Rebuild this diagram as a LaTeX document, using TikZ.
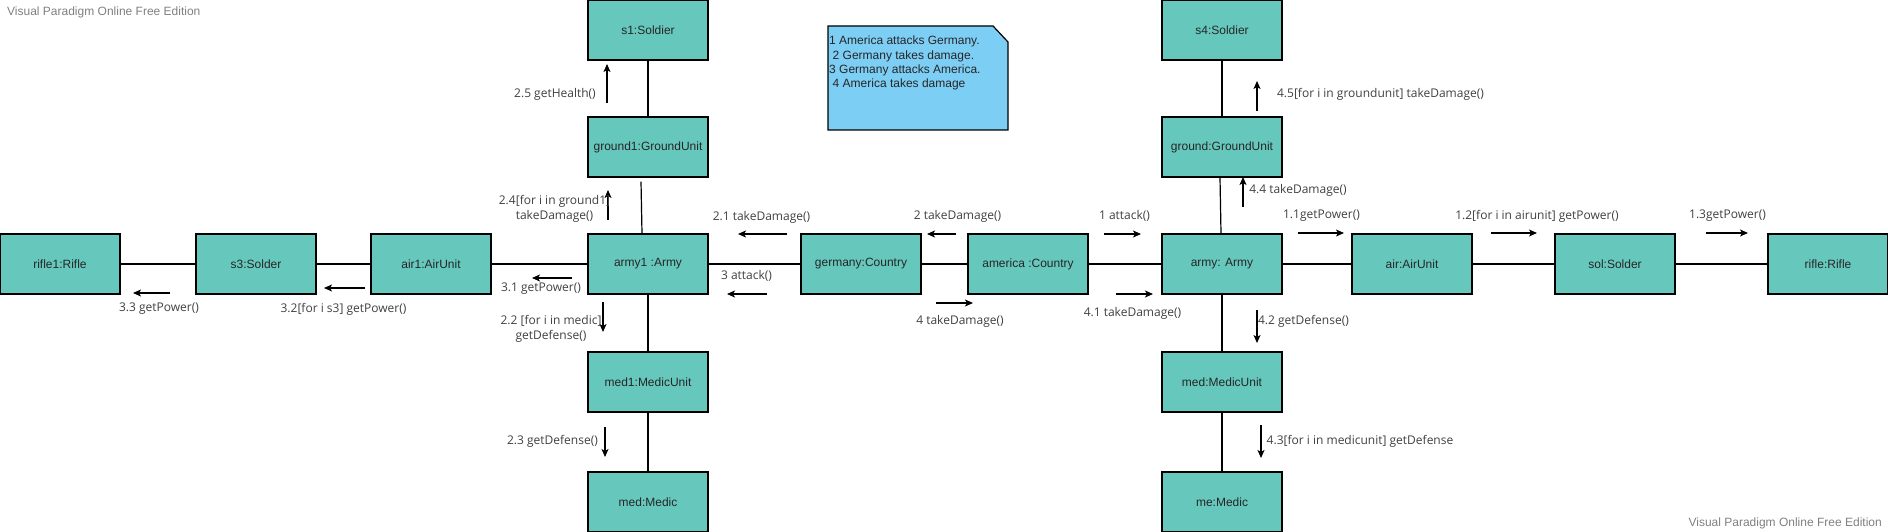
\documentclass[tikz,border=0pt]{standalone}
\usepackage{fontspec}
\setmainfont{Liberation Sans}
\newfontfamily\lblfont{Open Sans}
\usetikzlibrary{arrows.meta,calc}
\definecolor{boxteal}{RGB}{102,200,189}
\definecolor{noteblue}{RGB}{125,206,245}
\definecolor{lblgray}{RGB}{64,64,64}
\definecolor{wmgray}{RGB}{128,128,128}
\begin{document}
\begin{tikzpicture}[x=1pt,y=-1pt,
  obj/.style={draw=black,line width=1.2pt,fill=boxteal,minimum width=120pt,minimum height=60pt,inner sep=0pt,
    font=\fontsize{12}{14}\selectfont,text=black!85},
  link/.style={draw=black,line width=1.2pt},
  msg/.style={draw=black,line width=1.2pt,-{Stealth[length=8pt,width=7pt,inset=2pt]}},
  lbl/.style={inner sep=0pt,font=\lblfont\fontsize{12}{15}\selectfont,text=lblgray,align=center},
  wm/.style={inner sep=0pt,font=\fontsize{12}{14}\selectfont,text=wmgray}]
\useasboundingbox (0,0) rectangle (1888,532);
% watermarks
\node[wm,anchor=west] (wm1) at (7,12) {Visual Paradigm Online Free Edition};
\node[wm,anchor=east] (wm2) at (1882,523) {Visual Paradigm Online Free Edition};
% objects
\node[obj] (rifle1) at (60,264) {rifle1:Rifle};
\node[obj] (s3) at (256,264) {s3:Solder};
\node[obj] (air1) at (431,264) {air1:AirUnit};
\node[obj] (army1) at (648,264) {army1 :Army};
\node[obj] (germany) at (861,264) {germany:Country};
\node[obj] (america) at (1028,264) {america :Country};
\node[obj] (army) at (1222,264) {army: Army};
\node[obj] (air) at (1412,264) {air:AirUnit};
\node[obj] (sol) at (1615,264) {sol:Solder};
\node[obj] (rifle) at (1828,264) {rifle:Rifle};
\node[obj] (s1) at (648,30) {s1:Soldier};
\node[obj] (ground1) at (648,147) {ground1:GroundUnit};
\node[obj] (med1) at (648,382) {med1:MedicUnit};
\node[obj] (med) at (648,502) {med:Medic};
\node[obj] (s4) at (1222,30) {s4:Soldier};
\node[obj] (ground) at (1222,147) {ground:GroundUnit};
\node[obj] (medu) at (1222,382) {med:MedicUnit};
\node[obj] (me) at (1222,502) {me:Medic};
% note
\draw[line width=1.2pt,fill=noteblue] (828,26) -- (993,26) -- (1008,42) -- (1008,130) -- (828,130) -- cycle;
\node[inner sep=0pt,anchor=north west,align=left,font=\fontsize{12}{14.3}\selectfont,text=black!85] (note) at (829,36)
 {1 America attacks Germany.\\\hspace*{3.5pt}2 Germany takes damage.\\3 Germany attacks America.\\\hspace*{3.5pt}4 America takes damage};
% links
\draw[link] (rifle1) -- (s3);
\draw[link] (s3) -- (air1);
\draw[link] (air1) -- (army1);
\draw[link] (army1) -- (germany);
\draw[link] (germany) -- (america);
\draw[link] (america) -- (army);
\draw[link] (army) -- (air);
\draw[link] (air) -- (sol);
\draw[link] (sol) -- (rifle);
\draw[link] (s1) -- (ground1);
\coordinate (g1b) at ($(ground1.south)+(-7,4)$);
\coordinate (a1t) at ($(army1.north)+(-6,0)$);
\draw[link] (g1b) -- (a1t);
\draw[link] (army1) -- (med1);
\draw[link] (med1) -- (med);
\draw[link] (s4) -- (ground);
\coordinate (gb) at ($(ground.south)+(-2,0)$);
\coordinate (at) at ($(army.north)+(-1,0)$);
\draw[link] (gb) -- (at);
\draw[link] (army) -- (medu);
\draw[link] (medu) -- (me);
% message arrows
\newcommand\msgarrow[3]{\coordinate (#1t) at (#2); \coordinate (#1h) at (#3); \draw[msg] (#1t) -- (#1h);}
\msgarrow{m33}{170,293}{133,293}
\msgarrow{m32}{365,288}{324,288}
\msgarrow{m31}{572,278}{532,278}
\msgarrow{m22}{603,302}{603,332}
\msgarrow{m23}{605,427}{605,457}
\msgarrow{m3}{767,294}{727,294}
\msgarrow{m21}{787,234}{738,234}
\msgarrow{m24}{608,220}{608,190}
\msgarrow{m25}{607,103}{607,64}
\msgarrow{m2}{956,234}{927,234}
\msgarrow{m4}{936,303}{973,303}
\msgarrow{m1}{1104,234}{1141,234}
\msgarrow{m41}{1116,294}{1153,294}
\msgarrow{m44}{1243,207}{1243,177}
\msgarrow{m11}{1298,233}{1344,233}
\msgarrow{m42}{1257,310}{1257,343}
\msgarrow{m43}{1261,425}{1261,458}
\msgarrow{m12}{1491,233}{1537,233}
\msgarrow{m13}{1706,233}{1748,233}
\msgarrow{m45}{1257,111}{1257,81}
% labels
\node[lbl] (l33) at (159,309) {3.3 getPower()};
\node[lbl] (l32) at (343.5,309) {3.2[for i s3] getPower()};
\node[lbl] (l31) at (541,289) {3.1 getPower()};
\node[lbl] (l22) at (551,329) {2.2 [for i in medic]\\getDefense()};
\node[lbl] (l23) at (552.5,441) {2.3 getDefense()};
\node[lbl] (l3) at (746.5,276) {3 attack()};
\node[lbl] (l21) at (761.5,217) {2.1 takeDamage()};
\node[lbl] (l24) at (554.5,209) {2.4[for i in ground1]\\takeDamage()};
\node[lbl] (l25) at (555,94) {2.5 getHealth()};
\node[lbl] (l2) at (957.5,216) {2 takeDamage()};
\node[lbl] (l4) at (960,321) {4 takeDamage()};
\node[lbl] (l1) at (1124.5,216) {1 attack()};
\node[lbl] (l41) at (1132.5,313) {4.1 takeDamage()};
\node[lbl] (l44) at (1298,190) {4.4 takeDamage()};
\node[lbl] (l11) at (1321.5,216) {1.1getPower()};
\node[lbl] (l42) at (1303.5,321) {4.2 getDefense()};
\node[lbl] (l43) at (1360,441) {4.3[for i in medicunit] getDefense};
\node[lbl] (l12) at (1537,216) {1.2[for i in airunit] getPower()};
\node[lbl] (l13) at (1727.5,216) {1.3getPower()};
\node[lbl] (l45) at (1380.5,94) {4.5[for i in groundunit] takeDamage()};
\end{tikzpicture}
\end{document}
